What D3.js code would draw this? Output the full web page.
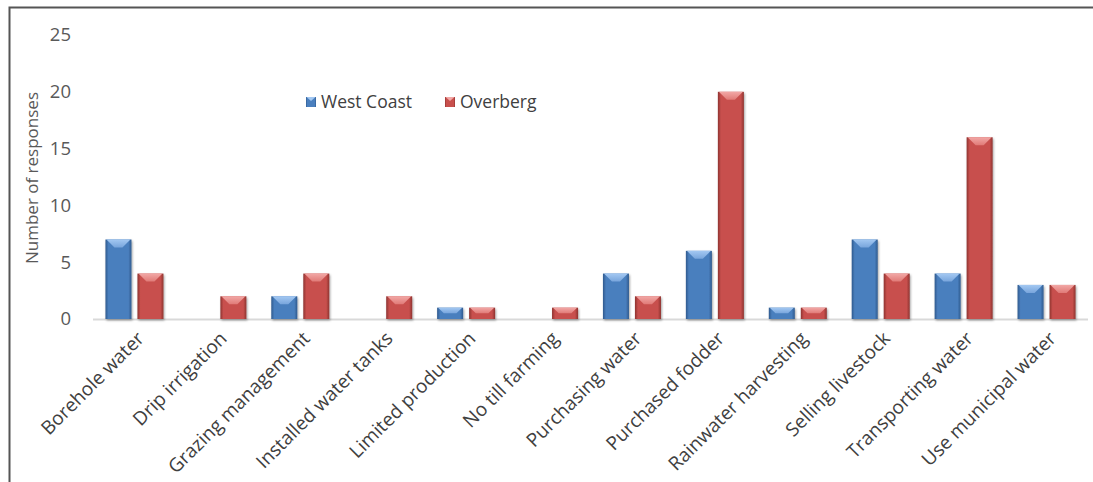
<!DOCTYPE html>
<html>
<head>
<meta charset="utf-8">
<script src="https://cdn.jsdelivr.net/npm/d3@7"></script>
<style>
  body { margin: 0; background: #fff; }
  svg { display: block; font-family: "Open Sans", sans-serif; }
</style>
</head>
<body>
<div id="chart"></div>
<script>
// ----- dati
var categories = ["Borehole water", "Drip irrigation", "Grazing management", "Installed water tanks",
    "Limited production", "No till farming", "Purchasing water", "Purchased fodder",
    "Rainwater harvesting", "Selling livestock", "Transporting water", "Use municipal water"];
var seriesNames = ["West Coast", "Overberg"];
var westCoast = [7, 0, 2, 0, 1, 0, 4, 6, 1, 7, 4, 3];
var overberg = [4, 2, 4, 2, 1, 1, 2, 20, 1, 4, 16, 3];
var yTicks = [0, 5, 10, 15, 20, 25];

var w = 1093, h = 482;
var margin = { left: 93, right: 5, top: 35, bottom: 163 };
var colors = ["#4a7fbe", "#c8504d"];
var darks = ["#2f5a8e", "#8e3330"];
var lights = ["#a3c8f2", "#f2a8a6"];
var mids = ["#78a5dc", "#e07a77"];

var svg = d3.select("#chart").append("svg").attr("width", w).attr("height", h);

// ----- cornice (solo bordo sinistro e superiore)
svg.append("path").attr("d", "M9.5," + h + "V7.5H" + w)
    .attr("fill", "none").attr("stroke", "#555").attr("stroke-width", 2);

var x = d3.scaleBand().domain(categories).range([margin.left, w - margin.right]);
var y = d3.scaleLinear().domain([0, 25]).range([h - margin.bottom, margin.top]);

// ----- gradienti delle barre
var defs = svg.append("defs");
colors.forEach(function (c, i) {
    var g = defs.append("linearGradient").attr("id", "grad" + i)
        .attr("x1", "0%").attr("x2", "100%").attr("y1", "0%").attr("y2", "0%");
    g.append("stop").attr("offset", "0%").attr("stop-color", darks[i]);
    g.append("stop").attr("offset", "12%").attr("stop-color", c);
    g.append("stop").attr("offset", "88%").attr("stop-color", c);
    g.append("stop").attr("offset", "100%").attr("stop-color", darks[i]);

    // gradiente verticale per lo smusso
    var b = defs.append("linearGradient").attr("id", "bevel" + i)
        .attr("x1", "0%").attr("x2", "0%").attr("y1", "0%").attr("y2", "100%");
    b.append("stop").attr("offset", "0%").attr("stop-color", lights[i]);
    b.append("stop").attr("offset", "100%").attr("stop-color", mids[i]);
});
var shadow = defs.append("filter").attr("id", "shadow").attr("x", "-20%").attr("y", "-20%")
    .attr("width", "150%").attr("height", "150%");
shadow.append("feDropShadow").attr("dx", 1).attr("dy", 1.5).attr("stdDeviation", 1.2)
    .attr("flood-color", "#000").attr("flood-opacity", 0.35);

// ----- asse y (solo etichette)
var yAxis = svg.append("g").attr("transform", "translate(71,0)")
    .call(d3.axisLeft(y).tickValues(yTicks).tickSize(0).tickPadding(0));
yAxis.select(".domain").remove();
yAxis.selectAll("text").attr("font-size", 18.5).attr("fill", "#595959")
    .attr("font-family", "Open Sans, sans-serif");

svg.append("text")
    .attr("transform", "translate(38," + 178 + ") rotate(-90)")
    .attr("text-anchor", "middle").attr("font-size", 17).attr("fill", "#595959")
    .text("Number of responses");

// ----- linea di base
svg.append("line").attr("x1", margin.left).attr("x2", w - 5)
    .attr("y1", y(0) + 0.5).attr("y2", y(0) + 0.5)
    .attr("stroke", "#d9d9d9").attr("stroke-width", 2);

// ----- asse x
var xAxis = svg.append("g").attr("transform", "translate(6," + (y(0) + 16) + ")")
    .call(d3.axisBottom(x).tickSize(0).tickPadding(0));
xAxis.select(".domain").remove();
xAxis.selectAll("text")
    .attr("font-size", 19).attr("fill", "#404040")
    .attr("font-family", "Open Sans, sans-serif")
    .attr("text-anchor", "end").attr("dy", "0.35em")
    .attr("transform", "rotate(-45)");

// ----- barre
var barW = 26, gap = 6;
var data = [];
categories.forEach(function (c, i) {
    [westCoast[i], overberg[i]].forEach(function (v, s) {
        if (v > 0) data.push({ cat: c, v: v, s: s });
    });
});

var bars = svg.append("g").selectAll("g.bar").data(data).enter().append("g").attr("class", "bar")
    .attr("transform", function (d) {
        var cx = x(d.cat) + x.bandwidth() / 2;
        var x0 = d.s === 0 ? cx - gap / 2 - barW : cx + gap / 2;
        return "translate(" + x0 + "," + y(d.v) + ")";
    });

bars.append("rect")
    .attr("width", barW)
    .attr("height", function (d) { return y(0) - y(d.v); })
    .attr("fill", function (d) { return "url(#grad" + d.s + ")"; })
    .attr("filter", "url(#shadow)");

// ----- smusso superiore (trapezio chiaro)
bars.append("path")
    .attr("d", function (d) {
        var hh = Math.min(8, (y(0) - y(d.v)) * 0.5);
        return "M1,0H" + (barW - 1) + "L" + (barW - 1 - hh) + "," + hh + "H" + (1 + hh) + "Z";
    })
    .attr("fill", function (d) { return "url(#bevel" + d.s + ")"; });

// ----- legenda
var legend = svg.append("g").attr("transform", "translate(306,97)");
var lg = legend.selectAll("g").data(seriesNames).enter().append("g")
    .attr("transform", function (d, i) { return "translate(" + (i * 139) + ",0)"; });
lg.append("rect").attr("width", 10).attr("height", 10)
    .attr("fill", function (d, i) { return "url(#grad" + i + ")"; });
lg.append("path").attr("d", "M0.5,0H9.5L5,4Z")
    .attr("fill", function (d, i) { return lights[i]; });
lg.append("text").attr("x", 15).attr("y", 5).attr("dy", "0.35em")
    .attr("font-size", 17.5).attr("fill", "#404040").text(function (d) { return d; });
</script>
</body>
</html>
